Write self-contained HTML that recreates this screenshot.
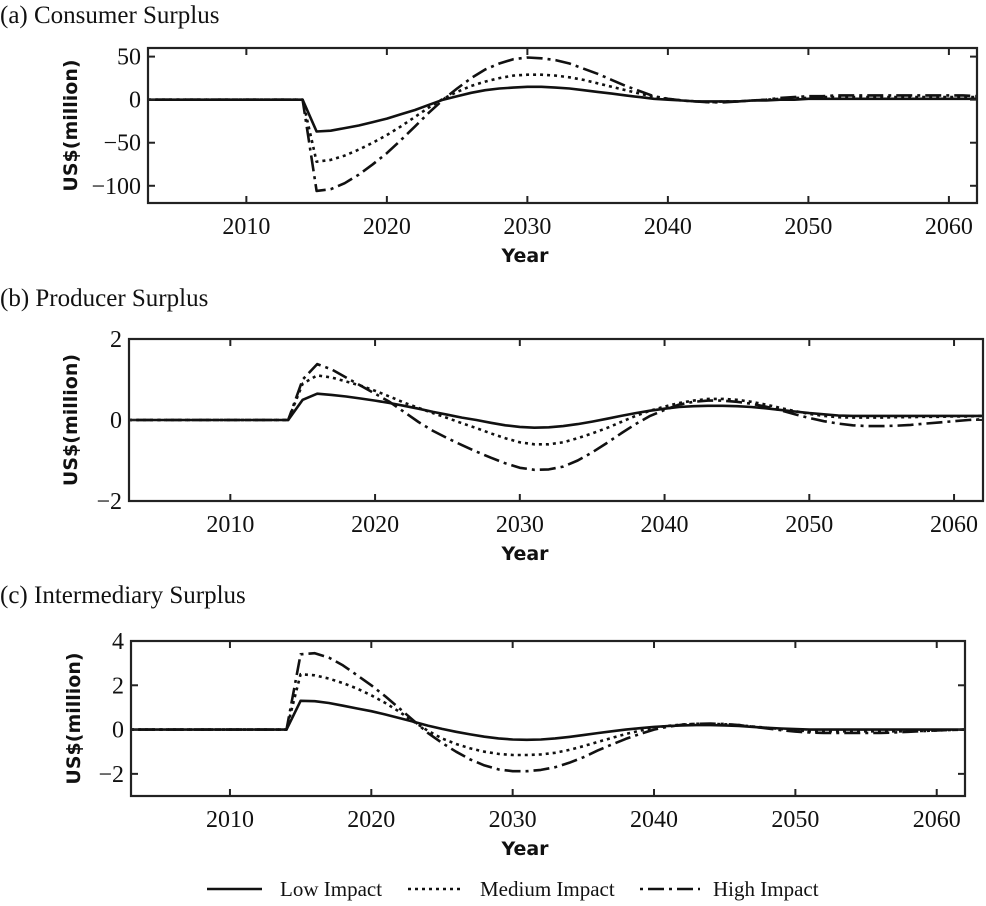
<!DOCTYPE html>
<html><head><meta charset="utf-8"><style>
body{margin:0;background:#fff;}
svg{display:block;}
.ttl{font-family:"Liberation Serif",serif;font-size:25px;fill:#111;}
.tk{font-family:"Liberation Serif",serif;font-size:24px;fill:#111;}
.ax{font-family:"DejaVu Sans","Liberation Sans",sans-serif;font-size:19px;font-weight:bold;fill:#111;}
.lg{font-family:"Liberation Serif",serif;font-size:21px;fill:#111;}
</style></head><body>
<svg id="fig" width="986" height="906" viewBox="0 0 986 906" xmlns="http://www.w3.org/2000/svg">
<g id="legend">
<g><line x1="207" y1="889" x2="262" y2="889" stroke="#111" stroke-width="2.5"/><text class="lg" x="280" y="896">Low Impact</text></g>
<g><line x1="408" y1="889" x2="462" y2="889" stroke="#111" stroke-width="2.5" stroke-dasharray="3,4"/><text class="lg" x="480" y="896">Medium Impact</text></g>
<g><line x1="640" y1="889" x2="700" y2="889" stroke="#111" stroke-width="2.5" stroke-dasharray="3,5,16,5"/><text class="lg" x="713" y="896">High Impact</text></g>
</g>
</svg>
<script>
const years = [];
for (let y = 2003; y <= 2062; y++) years.push(y);
const zeros12 = [0,0,0,0,0,0,0,0,0,0,0,0]; // 2003-2014

const consumerLow = zeros12.concat([-37,-36,-33,-30,-26,-22,-17,-12,-6,0,4,8,11,13,14,15,15,14,13,11,9,7,5,3,1,0,-1,-2,-2,-2,-2,-1,-1,0,0,1,1,1,1,1,1,1,1,1,1,1,1,1]);
const consumerMed = zeros12.concat([-72,-70,-65,-58,-50,-41,-31,-20,-9,1,9,16,21,25,28,29,29,28,26,23,19,15,11,7,3,1,-1,-2,-3,-2,-2,-1,0,1,2,2,3,3,3,3,3,3,3,3,3,3,3,3]);
const consumerHigh = zeros12.concat([-106,-104,-97,-87,-75,-62,-47,-31,-15,0,13,25,35,42,47,49,48,46,42,36,30,23,16,10,4,1,-1,-2,-3,-3,-2,-1,0,2,3,4,4,5,5,5,5,5,5,5,5,5,5,4]);

const producerLow = zeros12.concat([0.5,0.65,0.62,0.58,0.53,0.48,0.42,0.35,0.28,0.2,0.13,0.06,0,-0.07,-0.13,-0.17,-0.19,-0.18,-0.15,-0.1,-0.04,0.03,0.1,0.17,0.23,0.28,0.32,0.34,0.35,0.35,0.34,0.32,0.29,0.25,0.21,0.17,0.14,0.11,0.1,0.1,0.1,0.1,0.1,0.1,0.1,0.1,0.1,0.1]);
const producerMed = zeros12.concat([0.9,1.1,1.05,0.95,0.85,0.72,0.58,0.43,0.3,0.17,0.05,-0.08,-0.2,-0.33,-0.45,-0.55,-0.6,-0.6,-0.55,-0.45,-0.33,-0.2,-0.05,0.1,0.23,0.33,0.42,0.48,0.52,0.52,0.5,0.45,0.38,0.3,0.22,0.15,0.1,0.07,0.06,0.06,0.06,0.07,0.07,0.08,0.08,0.09,0.09,0.1]);
const producerHigh = zeros12.concat([1.0,1.38,1.25,1.05,0.85,0.65,0.45,0.2,-0.05,-0.27,-0.45,-0.62,-0.78,-0.93,-1.07,-1.18,-1.23,-1.22,-1.15,-1.0,-0.8,-0.57,-0.33,-0.1,0.1,0.25,0.38,0.45,0.48,0.48,0.45,0.4,0.33,0.24,0.14,0.05,-0.03,-0.09,-0.13,-0.15,-0.15,-0.14,-0.12,-0.09,-0.06,-0.03,0.0,0.02]);

const interLow = zeros12.concat([1.3,1.28,1.2,1.08,0.95,0.83,0.68,0.52,0.35,0.18,0.03,-0.1,-0.22,-0.32,-0.4,-0.45,-0.46,-0.45,-0.4,-0.33,-0.25,-0.16,-0.08,0,0.06,0.12,0.16,0.19,0.2,0.2,0.19,0.16,0.12,0.08,0.05,0.02,0,0,0,0,0,0,0,0,0,0,0,0]);
const interMed = zeros12.concat([2.5,2.45,2.3,2.1,1.85,1.55,1.2,0.8,0.35,-0.05,-0.4,-0.65,-0.85,-1.0,-1.1,-1.15,-1.15,-1.12,-1.05,-0.92,-0.75,-0.56,-0.38,-0.2,-0.05,0.08,0.17,0.23,0.26,0.26,0.24,0.2,0.14,0.08,0.02,-0.03,-0.08,-0.08,-0.08,-0.08,-0.08,-0.08,-0.08,-0.08,-0.06,-0.04,-0.02,0]);
const interHigh = zeros12.concat([3.4,3.45,3.25,2.9,2.45,2.0,1.5,0.95,0.4,-0.15,-0.6,-1.0,-1.35,-1.62,-1.8,-1.88,-1.88,-1.82,-1.7,-1.5,-1.25,-0.95,-0.68,-0.42,-0.2,0,0.13,0.22,0.26,0.27,0.25,0.2,0.13,0.05,-0.03,-0.09,-0.13,-0.15,-0.15,-0.15,-0.15,-0.15,-0.13,-0.1,-0.07,-0.04,-0.02,0]);

const xTicks = [2010,2020,2030,2040,2050,2060];
const consumerYTicks = [50,0,-50,-100];
const producerYTicks = [2,0,-2];
const interYTicks = [4,2,0,-2];
const seriesNames = ["low","medium","high"];

const NS = "http://www.w3.org/2000/svg";
const svg = document.getElementById("fig");
function mk(tag, attrs, parent) {
  const e = document.createElementNS(NS, tag);
  for (const k in attrs) e.setAttribute(k, attrs[k]);
  (parent || svg).appendChild(e);
  return e;
}
const dashes = ["", "3,4", "3,5,16,5"];

function panel(key, title, box, yMin, yMax, yTicks, series, titleY, yTitleX) {
  const g = mk("g", {});
  
  
  const xs = v => box.l + (v - 2003) / (2062 - 2003) * (box.r - box.l);
  const ys = v => box.b - (v - yMin) / (yMax - yMin) * (box.b - box.t);
  const t = mk("text", {x: 0, y: titleY, class: "ttl"}, g);
  t.textContent = title;
  
  
  series.forEach((arr, si) => {
    const pts = arr.map((v, i) => xs(years[i]).toFixed(1) + "," + ys(v).toFixed(1)).join(" ");
    const pl = mk("polyline", {points: pts, fill: "none", stroke: "#111", "stroke-width": 2.6, "stroke-linejoin": "round"}, g);
    if (dashes[si]) pl.setAttribute("stroke-dasharray", dashes[si]);
    
    
  });
  const fr = mk("rect", {x: box.l, y: box.t, width: box.r - box.l, height: box.b - box.t, fill: "none", stroke: "#222", "stroke-width": 2.2}, g);
  
  
  xTicks.forEach(v => {
    const x = xs(v);
    mk("line", {x1: x, y1: box.b, x2: x, y2: box.b - 7, stroke: "#222", "stroke-width": 2}, g);
    mk("line", {x1: x, y1: box.t, x2: x, y2: box.t + 7, stroke: "#222", "stroke-width": 2}, g);
    const tl = mk("text", {x: x, y: box.b + 31, class: "tk", "text-anchor": "middle"}, g);
    tl.textContent = v;
    
    
  });
  yTicks.forEach(v => {
    const y = ys(v);
    mk("line", {x1: box.l, y1: y, x2: box.l + 7, y2: y, stroke: "#222", "stroke-width": 2}, g);
    mk("line", {x1: box.r, y1: y, x2: box.r - 7, y2: y, stroke: "#222", "stroke-width": 2}, g);
    const tl = mk("text", {x: box.l - 7, y: y + 8, class: "tk", "text-anchor": "end"}, g);
    tl.textContent = v < 0 ? "\u2212" + Math.abs(v) : String(v);
    
    
  });
  const yc = (box.t + box.b) / 2;
  const yl = mk("text", {x: 0, y: 0, class: "ax", "text-anchor": "middle", transform: "translate(" + yTitleX + "," + yc + ") rotate(-90)"}, g);
  yl.textContent = "US$(million)";
  
  
  const xl = mk("text", {x: 525, y: box.b + 59, class: "ax", "text-anchor": "middle"}, g);
  xl.textContent = "Year";
  
  
}
panel("consumer", "(a) Consumer Surplus", {l:148, r:977, t:48, b:203}, -120, 60, consumerYTicks, [consumerLow, consumerMed, consumerHigh], 23, 77);
panel("producer", "(b) Producer Surplus", {l:129, r:983, t:339, b:501}, -2, 2, producerYTicks, [producerLow, producerMed, producerHigh], 306, 77);
panel("intermediary", "(c) Intermediary Surplus", {l:131, r:965, t:641, b:796}, -3, 4, interYTicks, [interLow, interMed, interHigh], 603, 80);
</script>
</body></html>
